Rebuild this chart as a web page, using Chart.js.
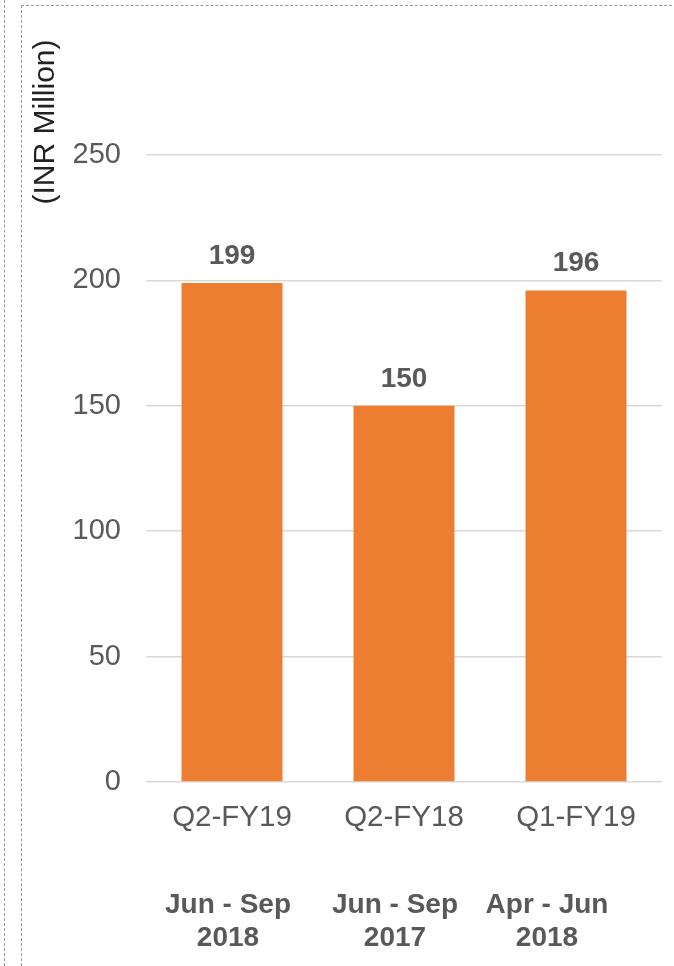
<!DOCTYPE html>
<html>
<head>
<meta charset="utf-8">
<script src="https://cdn.jsdelivr.net/npm/chart.js@4.4.0/dist/chart.umd.min.js"></script>
<style>
  html, body { margin: 0; padding: 0; background: #fff; }
  #wrap { position: relative; width: 674px; height: 966px; overflow: hidden; }
  #line-left { position: absolute; left: 4px; top: 0; height: 966px; border-left: 1px dashed #9a9a9a; }
  #frame { position: absolute; left: 21px; top: 5px; width: 700px; height: 1000px; border-left: 1px dashed #9a9a9a; border-top: 1px dashed #9a9a9a; }
  canvas { position: absolute; left: 0; top: 0; }
</style>
</head>
<body>
<div id="wrap">
  <div id="line-left"></div>
  <div id="frame"></div>
  <canvas id="revenue" width="674" height="966"></canvas>
</div>
<script>
var quarters = ["Q2-FY19", "Q2-FY18", "Q1-FY19"];
var periods = [["Jun - Sep", "2018"], ["Jun - Sep", "2017"], ["Apr - Jun", "2018"]];
var revenue = [199, 150, 196];
var yTicks = [0, 50, 100, 150, 200, 250];
var yTitle = "(INR Million)";

var FONT = "'Liberation Sans', Arial, sans-serif";
var GREY = "#595959";

// small shifts so the period text sits like in the original slide
var periodShift = [-4, -9, -29];

var labelPlugin = {
  id: "labels",
  afterDatasetsDraw: function (chart) {
    var ctx = chart.ctx;
    var meta = chart.getDatasetMeta(0);
    ctx.save();
    ctx.fillStyle = GREY;
    ctx.font = "bold 28px " + FONT;
    ctx.textAlign = "center";
    ctx.textBaseline = "alphabetic";
    meta.data.forEach(function (bar, i) {
      ctx.fillText(revenue[i], bar.x, bar.y - 19);
    });
    ctx.restore();
  },
  afterDraw: function (chart) {
    var ctx = chart.ctx;
    var x = chart.scales.x;
    ctx.save();
    ctx.fillStyle = GREY;
    ctx.font = "bold 28px " + FONT;
    ctx.textAlign = "center";
    ctx.textBaseline = "middle";
    periods.forEach(function (p, i) {
      var px = x.getPixelForValue(i) + periodShift[i];
      ctx.fillText(p[0], px, x.top + 123);
      ctx.fillText(p[1], px, x.top + 156);
    });
    // axis title at the top left, rotated
    ctx.fillStyle = "#222222";
    ctx.font = "30px " + FONT;
    ctx.translate(46, 122);
    ctx.rotate(-Math.PI / 2);
    ctx.fillText(yTitle, 0, 0);
    ctx.restore();
  }
};

var config = {
  type: "bar",
  data: {
    labels: quarters,
    datasets: [{
      data: revenue,
      backgroundColor: "#ED7D31",
      borderWidth: 0,
      barPercentage: 0.587,
      categoryPercentage: 1
    }]
  },
  options: {
    responsive: false,
    animation: false,
    layout: { padding: { top: 155, right: 12, left: 0, bottom: 0 } },
    plugins: {
      legend: { display: false },
      tooltip: { enabled: false }
    },
    scales: {
      x: {
        grid: { display: false, drawTicks: false },
        border: { display: false },
        ticks: { color: GREY, font: { family: FONT, size: 29.5 }, padding: 18 },
        afterFit: function (scale) { scale.height = 184; }
      },
      y: {
        min: 0,
        max: 250,
        afterBuildTicks: function (scale) {
          scale.ticks = yTicks.map(function (v) { return { value: v }; });
        },
        grid: { color: "#d9d9d9", lineWidth: 1.5, drawTicks: false },
        border: { display: false },
        ticks: { color: GREY, font: { family: FONT, size: 29 }, padding: 25 },
        afterFit: function (scale) { scale.width = 146; }
      }
    }
  },
  plugins: [labelPlugin]
};

var canvas = document.getElementById("revenue");
var ctx = canvas.getContext("2d");
canvas.chart = new Chart(ctx, config);
</script>
</body>
</html>
